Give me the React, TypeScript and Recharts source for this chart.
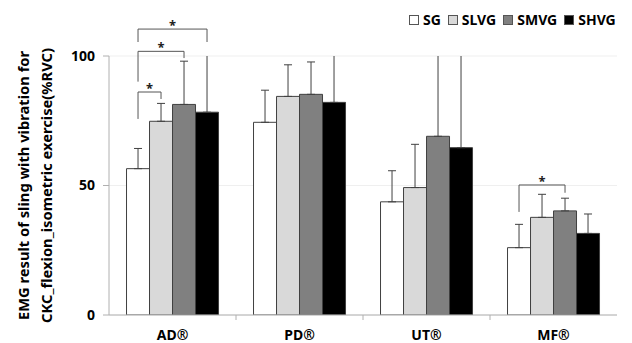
import React from 'react';
import { BarChart, Bar, XAxis, YAxis, CartesianGrid, Legend, ErrorBar, LabelList } from 'recharts';

const categories = ['AD®', 'PD®', 'UT®', 'MF®'];
const seriesNames = ['SG', 'SLVG', 'SMVG', 'SHVG'];
const sg = [56.5, 74.4, 43.7, 26.0];
const slvg = [74.8, 84.4, 49.2, 37.7];
const smvg = [81.3, 85.2, 69.0, 40.2];
const shvg = [78.3, 82.1, 64.6, 31.5];
const sgErr = [7.8, 12.4, 12.0, 9.0];
const slvgErr = [6.9, 12.2, 16.7, 8.9];
const smvgErr = [16.7, 12.5, 36, 4.9];
const shvgErr = [25, 22, 38, 7.5];
const yTicks = [0, 50, 100];

// significance brackets: bar indexes within a category, heights in %RVC
const brackets = [
  { cat: 'AD®', from: 0, to: 3, top: 110.4, leftEnd: 105.4, rightEnd: 105.4 },
  { cat: 'AD®', from: 0, to: 2, top: 101.8, leftEnd: 90.1, rightEnd: 99.2 },
  { cat: 'AD®', from: 0, to: 1, top: 86.1, leftEnd: 75.7, rightEnd: 83.4 },
  { cat: 'MF®', from: 0, to: 2, top: 50.2, leftEnd: 39.8, rightEnd: 47.2 },
];

const colors = ['#ffffff', '#d9d9d9', '#808080', '#000000'];

const data = categories.map((name, i) => ({
  name,
  SG: sg[i],
  SLVG: slvg[i],
  SMVG: smvg[i],
  SHVG: shvg[i],
  SGe: [0, sgErr[i]],
  SLVGe: [0, slvgErr[i]],
  SMVGe: [0, smvgErr[i]],
  SHVGe: [0, shvgErr[i]],
}));

const W = 632;
const H = 343;
const margin = { top: 56, right: 15, bottom: 0, left: 0 };
const yAxisW = 109;
const xAxisH = 28;
const plotW = W - margin.left - margin.right - yAxisW;
const plotH = H - margin.top - margin.bottom - xAxisH;
const bandW = plotW / categories.length;
const font = '"Noto Sans", sans-serif';

function renderBracket(props: any) {
  const vb = props.viewBox || props;
  const idx = props.index;
  const list = brackets.filter((b) => b.cat === categories[idx]);
  if (!list.length) return null;
  const base = vb.y + vb.height;
  const k = vb.height / sg[idx];
  const yOf = (v: number) => base - v * k;
  const cx = (j: number) => vb.x + vb.width * (j + 0.5);
  return (
    <g>
      {list.map((b, n) => {
        const x1 = cx(b.from);
        const x2 = cx(b.to);
        const yt = yOf(b.top);
        return (
          <g key={n}>
            <path
              d={`M${x1},${yOf(b.leftEnd)}V${yt}H${x2}V${yOf(b.rightEnd)}`}
              fill="none"
              stroke="#555"
              strokeWidth={1}
            />
            <text x={(x1 + x2) / 2} y={yt + 1} textAnchor="middle" fontSize={13} fontWeight="bold" fill="#222" fontFamily={font}>
              *
            </text>
          </g>
        );
      })}
    </g>
  );
}

function XTick(props: any) {
  const { x, y, payload, index } = props;
  return (
    <g>
      {index > 0 && <line x1={x - bandW / 2} x2={x - bandW / 2} y1={y} y2={y + 5} stroke="#b0b0b0" />}
      <text x={x} y={y + 25} textAnchor="middle" fontSize={14} fontWeight="bold" fill="#000" fontFamily={font}>
        {payload.value}
      </text>
    </g>
  );
}

function YLabel(props: any) {
  const vb = props.viewBox;
  const cy = vb.y + vb.height / 2;
  const lines = ['EMG result of sling with vibration for', 'CKC_flexion_isometric exercise(%RVC)'];
  const xs = [23, 46];
  return (
    <g>
      {lines.map((t, i) => (
        <text
          key={i}
          x={xs[i]}
          y={cy}
          transform={`rotate(-90 ${xs[i]} ${cy})`}
          textAnchor="middle"
          dominantBaseline="central"
          fontSize={14.7}
          fontWeight="bold"
          fill="#000"
          fontFamily={font}
        >
          {t}
        </text>
      ))}
    </g>
  );
}

function LegendContent(props: any) {
  const items = [...(props.payload || [])].sort(
    (a: any, b: any) => seriesNames.indexOf(a.value) - seriesNames.indexOf(b.value)
  );
  return (
    <div style={{ display: 'flex', alignItems: 'center', fontFamily: font, fontSize: 14, fontWeight: 'bold', lineHeight: '20px' }}>
      {items.map((p: any, i: number) => (
        <span key={i} style={{ display: 'flex', alignItems: 'center', marginLeft: i ? 7 : 0 }}>
          <span style={{ width: 8, height: 8, background: p.color, border: '1px solid #555', marginRight: 4 }} />
          {p.value}
        </span>
      ))}
    </div>
  );
}

export default function App() {
  return (
    <div style={{ position: 'absolute', left: 0, top: 0 }}>
      <svg width={0} height={0} style={{ position: 'absolute' }}>
        <defs>
          <clipPath id="plotClip" clipPathUnits="userSpaceOnUse">
            <rect x={margin.left + yAxisW} y={margin.top} width={plotW} height={plotH} />
          </clipPath>
        </defs>
      </svg>
      <style>{'.recharts-errorBars, .recharts-errorBar { clip-path: url(#plotClip); }'}</style>
      <BarChart width={W} height={H} data={data} margin={margin} barCategoryGap="13.8%" barGap={0}>
        <CartesianGrid vertical={false} stroke="#efefef" />
        <XAxis dataKey="name" height={xAxisH} tickSize={0} tickMargin={0} tick={<XTick />} stroke="#b0b0b0" interval={0} />
        <YAxis
          domain={[0, 100]}
          ticks={yTicks}
          allowDataOverflow
          width={yAxisW}
          tickSize={6}
          tickMargin={8}
          stroke="#b0b0b0"
          tick={{ fontSize: 14, fontWeight: 'bold', fill: '#000', fontFamily: font }}
          label={<YLabel />}
        />
        <Legend
          layout="horizontal"
          verticalAlign="middle"
          align="center"
          content={<LegendContent />}
          wrapperStyle={{ top: 10, left: 409, width: 215, height: 20 }}
        />
        {seriesNames.map((s, i) => (
          <Bar key={s} dataKey={s} name={s} fill={colors[i]} stroke="#404040" strokeWidth={1} isAnimationActive={false}>
            <ErrorBar dataKey={`${s}e`} width={4} stroke="#404040" strokeWidth={1} direction="y" />
            {i === 0 && <LabelList dataKey={s} content={renderBracket} />}
          </Bar>
        ))}
      </BarChart>
    </div>
  );
}
